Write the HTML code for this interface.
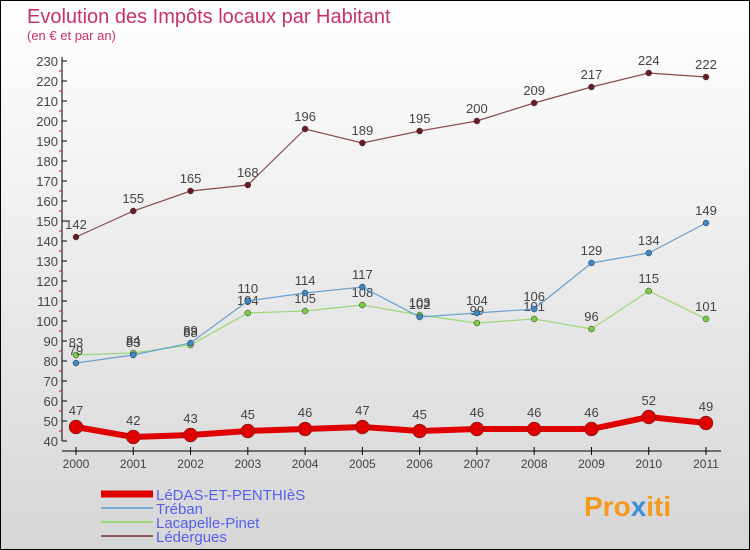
<!DOCTYPE html>
<html><head><meta charset="utf-8"><style>
body{margin:0}
#c{width:750px;height:550px;position:relative;box-sizing:border-box;border:1px solid #000;background:linear-gradient(#fff,#d6d6d6);font-family:"Liberation Sans",sans-serif;overflow:hidden}
</style></head><body>
<div id="c">
<svg id="s" width="750" height="550" style="position:absolute;left:0;top:0">
<text x="26" y="22" font-size="20" fill="#c8306a">Evolution des Impôts locaux par Habitant</text>
<text x="26" y="39" font-size="13" fill="#c8306a">(en € et par an)</text>
<text x="583" y="515" font-size="28" font-weight="bold" fill="#f39a1e">Pro<tspan fill="#3a8fd6">x</tspan>iti</text>
</svg>
</div>
<script>
const years=["2000","2001","2002","2003","2004","2005","2006","2007","2008","2009","2010","2011"];
const ledas=[47,42,43,45,46,47,45,46,46,46,52,49];
const treban=[79,83,89,110,114,117,102,104,106,129,134,149];
const lacapelle=[83,84,88,104,105,108,103,99,101,96,115,101];
const ledergues=[142,155,165,168,196,189,195,200,209,217,224,222];
const yTicks=[40,50,60,70,80,90,100,110,120,130,140,150,160,170,180,190,200,210,220,230];
const NS="http://www.w3.org/2000/svg";
const svg=document.getElementById('s');
const X=i=>75+i*(630/11);
const Y=v=>440-(v-40)*2;
function mk(t,a){const e=document.createElementNS(NS,t);for(const k in a)e.setAttribute(k,a[k]);svg.appendChild(e);return e;}
let ax=mk('line',{x1:61,y1:56,x2:61,y2:440,stroke:'#000'});


let xa=mk('line',{x1:61,y1:450,x2:720,y2:450,stroke:'#000'});


yTicks.forEach(v=>{
 mk('line',{x1:61,y1:Y(v),x2:66,y2:Y(v),stroke:'#000'});
 if(v<230)mk('line',{x1:58,y1:Y(v+5),x2:61,y2:Y(v+5),stroke:'#e00'});
 const t=mk('text',{x:57,y:Y(v)+5,'font-size':13,fill:'#444','text-anchor':'end'});t.textContent=v;
 
 
});
years.forEach((y,i)=>{
 mk('line',{x1:X(i),y1:446,x2:X(i),y2:454,stroke:'#000'});
 const t=mk('text',{x:X(i),y:467,'font-size':12,fill:'#444','text-anchor':'middle'});t.textContent=y;
 
 
});
function series(d,col,dot,w,r,name){
 const p=mk('polyline',{points:d.map((v,i)=>X(i)+','+Y(v)).join(' '),fill:'none',stroke:col,'stroke-width':w});
 
 
 d.forEach((v,i)=>{
  const c=mk('circle',{cx:X(i),cy:Y(v),r:r,fill:dot,stroke:'#333','stroke-width':0.5});
  
  
  const t=mk('text',{x:X(i),y:Y(v)-r-5,'font-size':13,fill:'#444','text-anchor':'middle'});t.textContent=v;
  
  
 });
}
series(ledergues,'#8a4a4a','#6a1a20',1.2,3,'ledergues');
series(lacapelle,'#9ad87a','#7acc40',1.2,3,'lacapelle');
series(treban,'#6aa0d0','#3a88c8',1.2,3,'treban');
series(ledas,'#e00000','#e00000',6,7,'ledas');
const leg=[['LéDAS-ET-PENTHIèS','#e00000',7],['Tréban','#7aaad0',2],['Lacapelle-Pinet','#9ad87a',2],['Lédergues','#8a5a5a',2]];
leg.forEach((l,i)=>{
 const y=493+i*14;
 const ln=mk('line',{x1:100,y1:y,x2:152,y2:y,stroke:l[1],'stroke-width':l[2]});
 
 
 const t=mk('text',{x:155,y:y+6,'font-size':15,fill:'#5560ee'});t.textContent=l[0];
 
 
});
</script>
</body></html>
